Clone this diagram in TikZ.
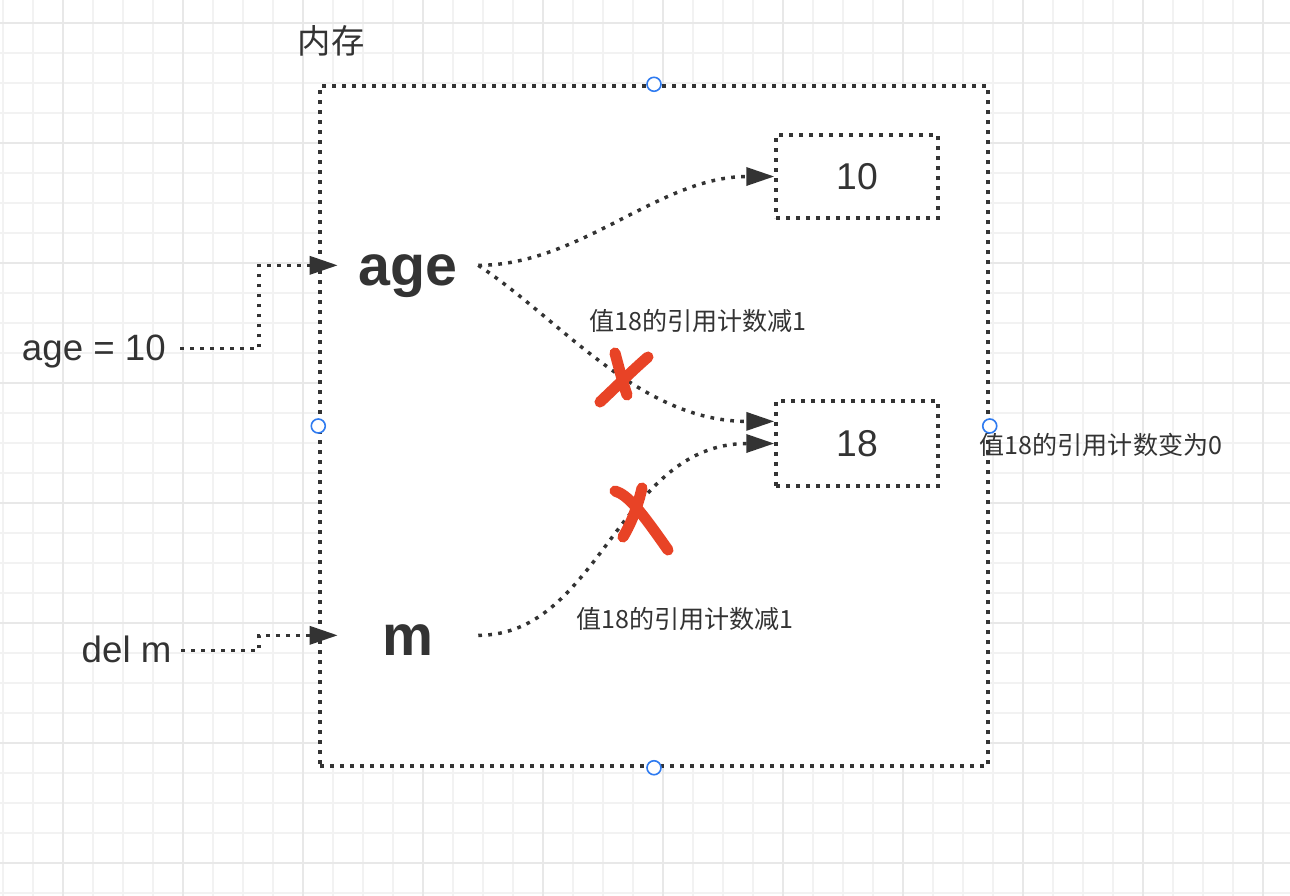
\documentclass[tikz,border=0pt]{standalone}
\usepackage{fontspec}
\setmainfont{Liberation Sans}
\newfontfamily\cjk{Noto Sans CJK SC}
\usetikzlibrary{arrows.meta,calc}
\definecolor{ink}{HTML}{333333}
\definecolor{xred}{HTML}{E84326}
\definecolor{handleblue}{HTML}{2F7BF0}
\definecolor{gridminor}{HTML}{F2F2F2}
\definecolor{gridmajor}{HTML}{E8E8E8}
\tikzset{
  dotline/.style={draw=ink, line width=2.6pt, dash pattern=on 2.8pt off 4.7pt},
  conn/.style={dotline, -{Triangle[length=21pt,width=13.5pt]}},
  gminor/.style={draw=gridminor, line width=1.3pt},
  gmajor/.style={draw=gridmajor, line width=1.3pt},
  varlbl/.style={font=\bfseries\fontsize{43pt}{50pt}\selectfont, text=ink,
    minimum width=105pt, inner xsep=0pt, inner ysep=0pt, text height=38pt, text depth=8.5pt},
  cmdlbl/.style={font=\fontsize{27.5pt}{32pt}\selectfont, text=ink,
    inner ysep=0pt, text height=22pt, text depth=4.6pt},
  valbox/.style={dotline, minimum width=121.5pt, inner sep=0pt,
    font=\fontsize{28pt}{33pt}\selectfont, text=ink},
  note/.style={font=\cjk\fontsize{18.8pt}{22pt}\selectfont, text=ink, inner sep=0pt},
  handle/.style={circle, draw=handleblue, line width=1.2pt, fill=white,
    minimum size=10.5pt, inner sep=0pt},
  redx/.style={draw=xred, line width=8.3pt, line cap=round},
}
\begin{document}
\begin{tikzpicture}[x=0.75pt, y=-0.75pt]
\useasboundingbox (0,0) rectangle (1290,896);
% grid
\foreach \gx in {3,33,...,1263} \draw[gminor] (\gx,0) -- (\gx,896);
\foreach \gy in {23,53,...,893} \draw[gminor] (0,\gy) -- (1290,\gy);
\foreach \gx in {63,183,...,1263} \draw[gmajor] (\gx,0) -- (\gx,896);
\foreach \gy in {23,143,...,863} \draw[gmajor] (0,\gy) -- (1290,\gy);

% memory container
\node[dotline, fill=white, minimum width=501pt, minimum height=510pt, inner sep=0pt]
  (mem) at (654,426) {};
\node[font=\cjk\fontsize{25pt}{29pt}\selectfont, text=ink, inner sep=0pt] (memlbl) at (331,41) {内存};

% value boxes
\node[valbox, minimum height=62.25pt] (b10) at (857,176.5) {10};
\node[valbox, minimum height=63.75pt] (b18) at (857,443.5) {18};
\coordinate (b18up) at ($(b18.north west)!0.25!(b18.south west)$);

% variables
\node[varlbl, anchor=base] (age) at (408,285) {age};
\node[varlbl, anchor=base] (m) at (408,655) {m};

% statements
\node[cmdlbl, inner xsep=10.5pt, anchor=base east] (ageset) at (180,360) {age = 10};
\node[cmdlbl, inner xsep=7pt, anchor=base east] (delm) at (181,662) {del m};

% notes
\node[note] (n1) at (698,321) {值18的引用计数减1};
\node[note] (n2) at (685,619) {值18的引用计数减1};
\node[note] (n3) at (1101,445) {值18的引用计数变为0};

% connectors
\draw[conn] (ageset.east) -- ++(79,0) |- (age.west);
\draw[conn] (delm.east) -- ++(78,0) |- (m.west);
\draw[conn] (age.east) .. controls +(102,0) and +(-115,0) .. (b10.west);
\draw[conn] (age.east) .. controls +(82,54) and +(-135,0) .. (b18up);
\draw[conn] (m.east) .. controls +(122,0) and +(-155,0) .. (b18.west);

% red crosses
\draw[redx] (600,402) .. controls (618,385) and (634,369) .. (648,357);
\draw[redx] (615,353) .. controls (619,368) and (623,383) .. (627,395);
\draw[redx] (615,491) .. controls (628,495) and (640,510) .. (668,550);
\draw[redx] (642,488) .. controls (638,505) and (632,522) .. (623,537);

% selection handles
\node[handle] (hn) at (mem.north) {};
\node[handle] (hw) at (mem.west) {};
\node[handle] (he) at (mem.east) {};
\node[handle] (hs) at (mem.south) {};
\end{tikzpicture}
\end{document}
